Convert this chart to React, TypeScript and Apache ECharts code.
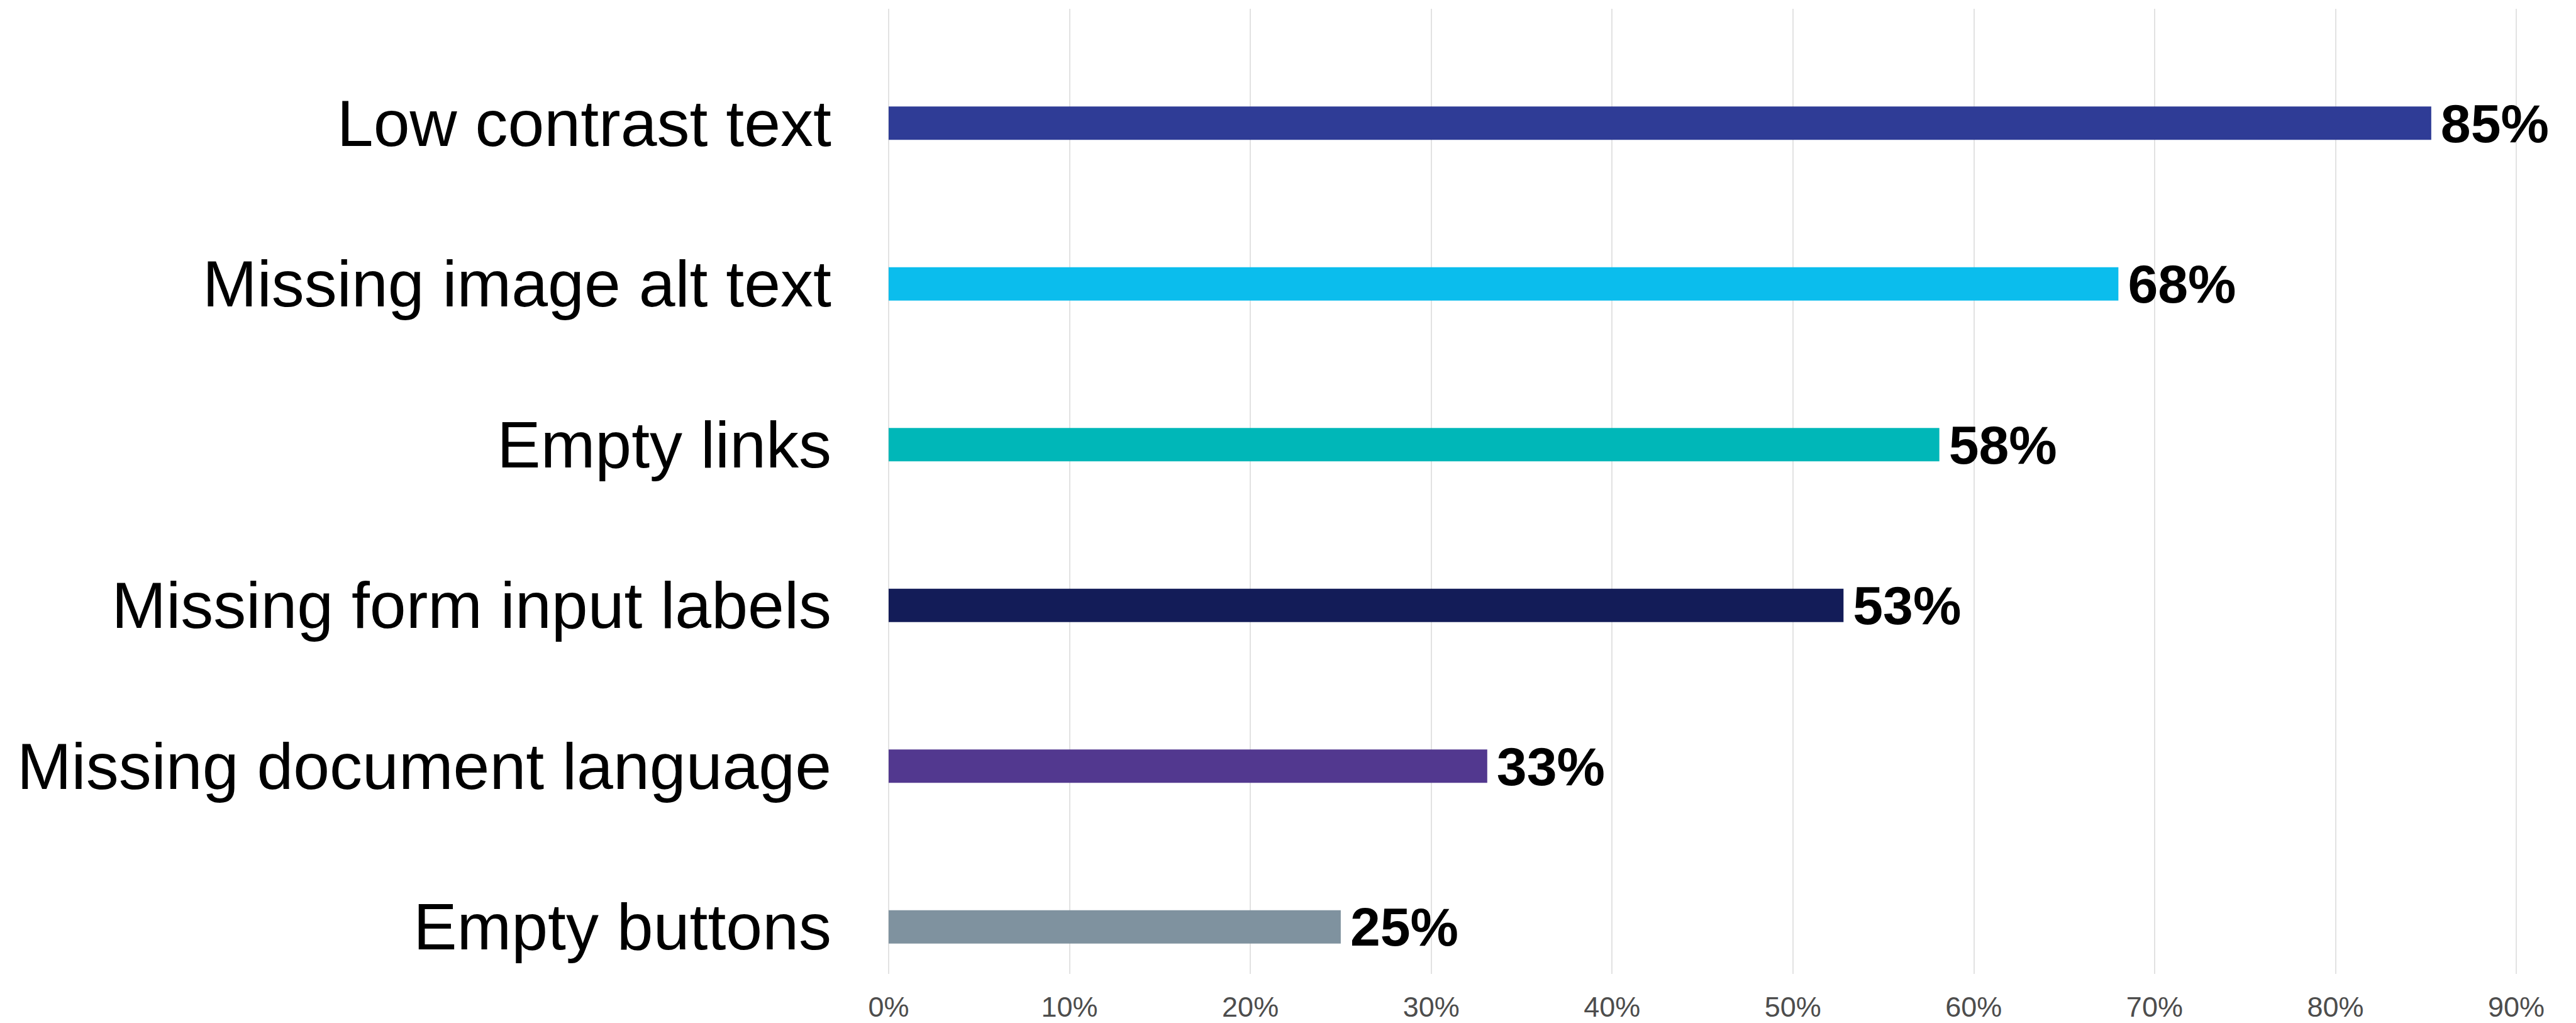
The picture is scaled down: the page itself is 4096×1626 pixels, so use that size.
import React, { useEffect, useRef } from "react";
import * as echarts from "echarts";

const categories = [
  "Low contrast text",
  "Missing image alt text",
  "Empty links",
  "Missing form input labels",
  "Missing document language",
  "Empty buttons",
];
const values = [85.3, 68, 58.1, 52.8, 33.1, 25];
const barColors = ["#2F3C96", "#0BBDED", "#00B7B8", "#131C58", "#52388F", "#7F929F"];
const xTicks = [0, 10, 20, 30, 40, 50, 60, 70, 80, 90];

const FONT = "'Liberation Sans', Arial, Helvetica, sans-serif";

export default function App() {
  const ref = useRef<HTMLDivElement>(null);
  useEffect(() => {
    if (!ref.current) return;
    const chart = echarts.init(ref.current, undefined, { renderer: "svg" });
    const xMin = xTicks[0];
    const xMax = xTicks[xTicks.length - 1];
    const option = {
      animation: false,
      backgroundColor: "#ffffff",
      grid: [
        { left: 1413, right: 95, top: 68, bottom: 25, containLabel: false },
        { left: 1413, right: 95, top: 14, bottom: 78, containLabel: false },
      ],
      xAxis: [
        {
          type: "value",
          gridIndex: 0,
          min: xMin,
          max: xMax,
          show: false,
          splitLine: { show: false },
        },
        {
          type: "value",
          gridIndex: 1,
          min: xMin,
          max: xMax,
          interval: 10,
          axisLine: { show: false },
          axisTick: { show: false },
          splitLine: { show: true, lineStyle: { color: "#e2e2e2", width: 2 } },
          axisLabel: {
            formatter: "{value}%",
            color: "#4D4D4D",
            fontSize: 45,
            fontFamily: FONT,
            margin: 30,
          },
        },
      ],
      yAxis: [
        {
          type: "category",
          gridIndex: 0,
          data: categories,
          inverse: true,
          axisLine: { show: false },
          axisTick: { show: false },
          splitLine: { show: false },
          axisLabel: {
            color: "#000000",
            fontSize: 104,
            fontFamily: FONT,
            margin: 91,
            padding: [40, 0, 0, 0],
          },
        },
        {
          type: "value",
          gridIndex: 1,
          show: false,
          splitLine: { show: false },
        },
      ],
      series: [
        {
          type: "bar",
          xAxisIndex: 0,
          yAxisIndex: 0,
          barWidth: 53,
          data: values.map((v, i) => ({ value: v, itemStyle: { color: barColors[i] } })),
          label: {
            show: true,
            position: "right",
            distance: 15,
            formatter: (p: any) => `${Math.round(p.value)}%`,
            color: "#000000",
            fontWeight: "bold",
            fontSize: 86,
            fontFamily: FONT,
          },
        },
      ],
    };
    chart.setOption(option);
    return () => chart.dispose();
  }, []);
  return (
    <div
      ref={ref}
      style={{ position: "fixed", left: 0, top: 0, width: 4096, height: 1626, background: "#fff" }}
    />
  );
}
